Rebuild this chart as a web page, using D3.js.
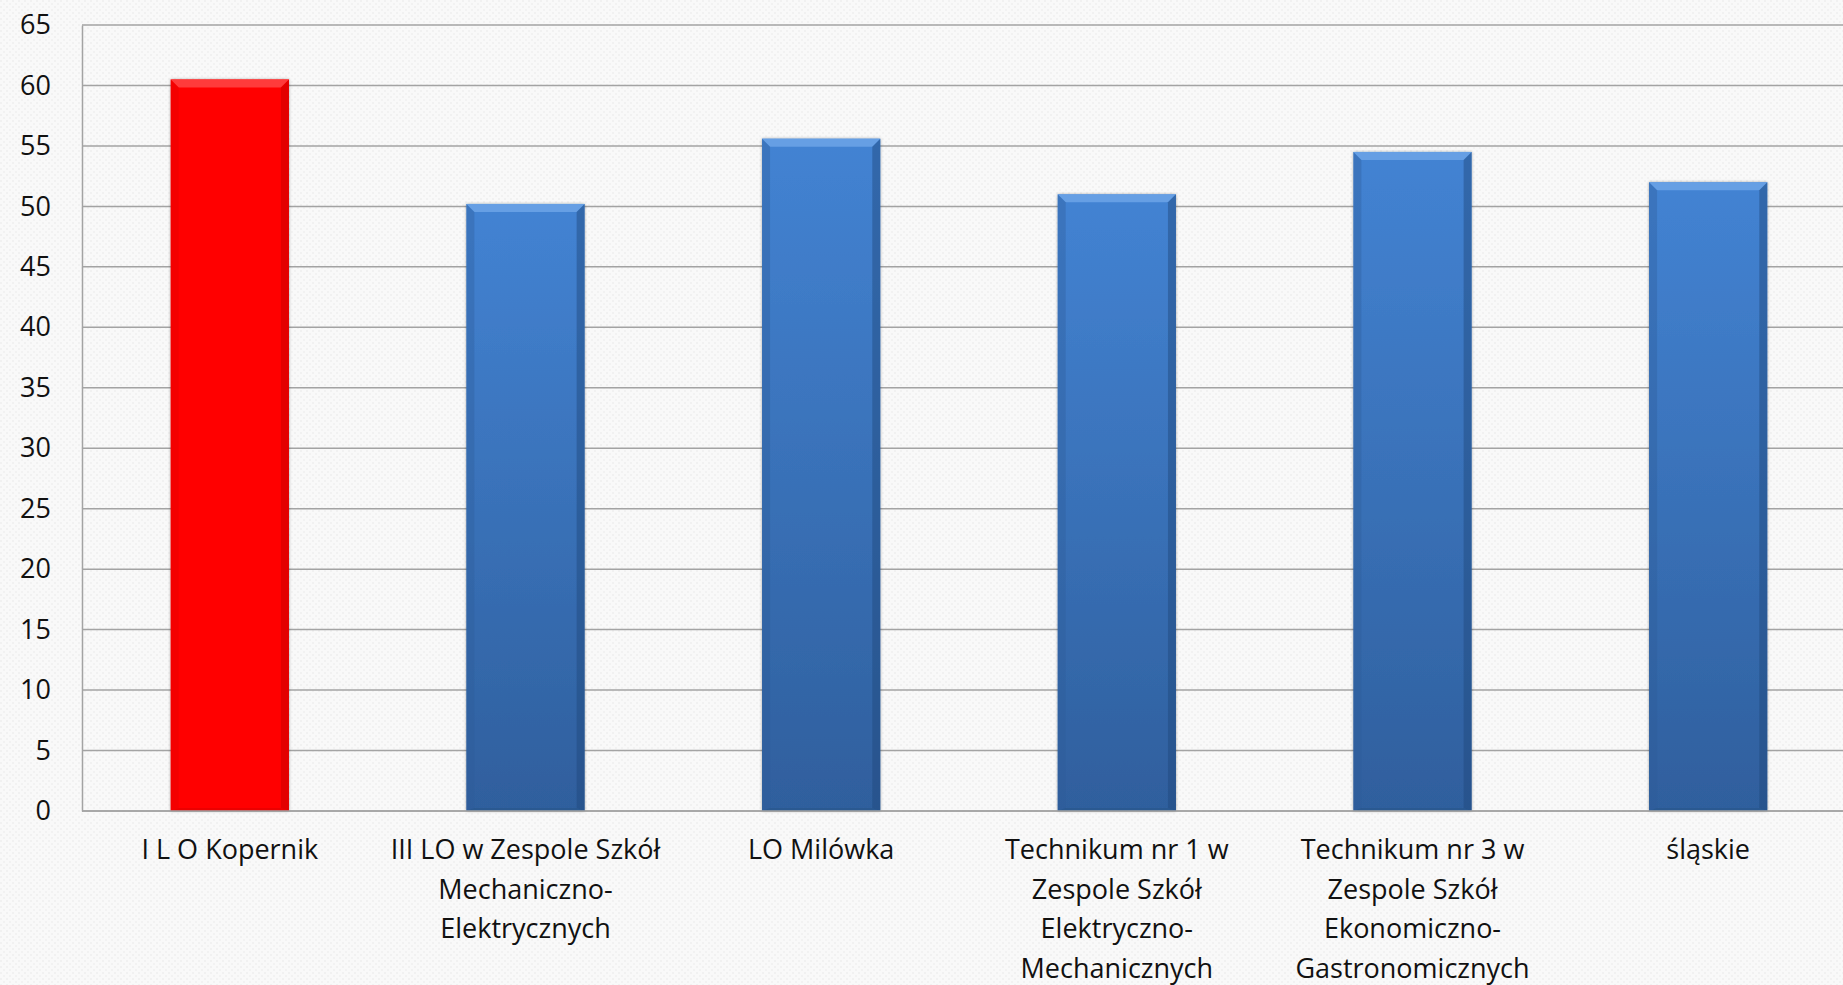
<!DOCTYPE html>
<html>
<head>
<meta charset="utf-8">
<script src="https://cdn.jsdelivr.net/npm/d3@7"></script>
<style>
  html, body { margin: 0; padding: 0; background: #f7f7f7; overflow: hidden; }
  svg { display: block; }
</style>
</head>
<body>
<svg id="chart" width="1843" height="985"></svg>
<script>
const categories = [
  ["I L O Kopernik"],
  ["III LO w Zespole Szkół", "Mechaniczno-", "Elektrycznych"],
  ["LO Milówka"],
  ["Technikum nr 1 w", "Zespole Szkół", "Elektryczno-", "Mechanicznych"],
  ["Technikum nr 3 w", "Zespole Szkół", "Ekonomiczno-", "Gastronomicznych"],
  ["śląskie"]
];
const values = [60.5, 50.2, 55.6, 51.0, 54.5, 52.0];
const highlight = [true, false, false, false, false, false];
const yTicks = [0, 5, 10, 15, 20, 25, 30, 35, 40, 45, 50, 55, 60, 65];

(function () {
const svg = d3.select("#chart");
const W = 1843, H = 985;
const mL = 82, mR = 1856, mT = 25, mB = 811;
const FONT = "'Open Sans', Lato, sans-serif";

const defs = svg.append("defs");
const pat = defs.append("pattern").attr("id", "bgpat").attr("width", 6).attr("height", 6)
  .attr("patternUnits", "userSpaceOnUse");
pat.append("rect").attr("width", 6).attr("height", 6).attr("fill", "#f9f9f9");
pat.append("rect").attr("x", 0).attr("y", 0).attr("width", 2).attr("height", 2).attr("fill", "#f1f1f1");
pat.append("rect").attr("x", 3).attr("y", 3).attr("width", 2).attr("height", 2).attr("fill", "#f2f2f2");
svg.append("rect").attr("width", W).attr("height", H).attr("fill", "url(#bgpat)");

const blueGrad = defs.append("linearGradient").attr("id", "blueGrad")
  .attr("x1", 0).attr("y1", 0).attr("x2", 0).attr("y2", 1);
blueGrad.append("stop").attr("offset", "0%").attr("stop-color", "#4383d3");
blueGrad.append("stop").attr("offset", "100%").attr("stop-color", "#2f5f9d");

const shadow = defs.append("filter").attr("id", "shadow")
  .attr("x", "-10%").attr("y", "-10%").attr("width", "120%").attr("height", "120%");
shadow.append("feDropShadow").attr("dx", 0).attr("dy", 0).attr("stdDeviation", 1.5)
  .attr("flood-color", "#000").attr("flood-opacity", 0.35);

const x = d3.scaleBand().domain(d3.range(categories.length)).range([mL, mR])
  .paddingInner(0.6).paddingOuter(0.3);
const y = d3.scaleLinear().domain([0, 65]).range([mB, mT]);

const grid = svg.append("g");
grid.selectAll("line").data(yTicks).join("line")
  .attr("x1", mL).attr("x2", mR)
  .attr("y1", d => y(d)).attr("y2", d => y(d))
  .attr("stroke", "#a3a3a3").attr("stroke-width", 1.5);

const yAxis = svg.append("g").attr("transform", `translate(${mL},0)`)
  .call(d3.axisLeft(y).tickValues(yTicks).tickSize(0).tickPadding(31));
yAxis.select(".domain").attr("stroke", "#a3a3a3").attr("stroke-width", 1.5);
yAxis.selectAll("text").attr("font-family", FONT)
  .attr("font-size", 27).attr("fill", "#111");

const bars = svg.append("g");
const bw = x.bandwidth();
const bev = 8;
const pts = arr => arr.map(p => p.join(",")).join(" ");
values.forEach((v, i) => {
  const x0 = x(i), y0 = y(v), h = y(0) - y(v);
  const g = bars.append("g");
  g.append("rect").attr("x", x0).attr("y", y0).attr("width", bw).attr("height", h)
    .attr("fill", highlight[i] ? "#ff0000" : "url(#blueGrad)")
    .attr("filter", "url(#shadow)");
  g.append("polygon")
    .attr("points", pts([[x0, y0], [x0 + bw, y0], [x0 + bw - bev, y0 + bev], [x0 + bev, y0 + bev]]))
    .attr("fill", highlight[i] ? "#ff4a4a" : "#6fa6e8").attr("opacity", 0.8);
  g.append("polygon")
    .attr("points", pts([[x0, y0], [x0 + bev, y0 + bev], [x0 + bev, y0 + h - 3], [x0, y0 + h]]))
    .attr("fill", highlight[i] ? "#e00000" : "#2d5c98").attr("opacity", 0.35);
  g.append("polygon")
    .attr("points", pts([[x0 + bw, y0], [x0 + bw - bev, y0 + bev], [x0 + bw - bev, y0 + h - 3], [x0 + bw, y0 + h]]))
    .attr("fill", highlight[i] ? "#c00000" : "#1f477a").attr("opacity", 0.45);
  g.append("polygon")
    .attr("points", pts([[x0, y0 + h], [x0 + bev, y0 + h - 3], [x0 + bw - bev, y0 + h - 3], [x0 + bw, y0 + h]]))
    .attr("fill", highlight[i] ? "#d00000" : "#26507f").attr("opacity", 0.4);
});

svg.append("line").attr("x1", mL).attr("x2", mR).attr("y1", y(0)).attr("y2", y(0))
  .attr("stroke", "#a3a3a3").attr("stroke-width", 1.5);

const labels = svg.append("g");
categories.forEach((lines, i) => {
  const t = labels.append("text").attr("x", x(i) + bw / 2).attr("y", 859)
    .attr("text-anchor", "middle").attr("font-family", FONT)
    .attr("font-size", 27).attr("fill", "#111");
  lines.forEach((l, k) => {
    t.append("tspan").attr("x", x(i) + bw / 2).attr("dy", k === 0 ? 0 : 39.5).text(l);
  });
});
})();
</script>
</body>
</html>
